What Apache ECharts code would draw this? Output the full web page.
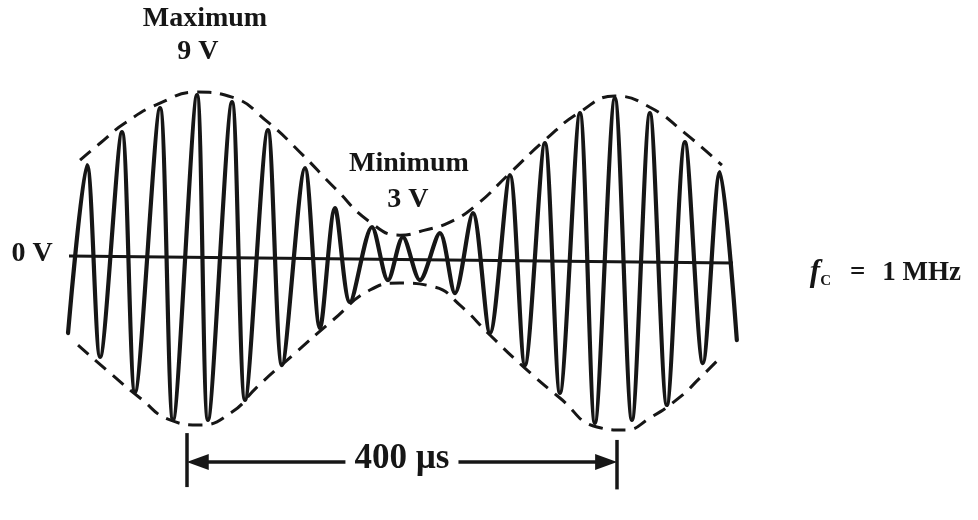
<!DOCTYPE html>
<html>
<head>
<meta charset="utf-8">
<script src="https://cdn.jsdelivr.net/npm/echarts@6/dist/echarts.min.js"></script>
<style>
html,body{margin:0;padding:0;background:#fff;}
#chart{width:978px;height:520px;}
</style>
</head>
<body>
<div id="chart"></div>
<script>
// Carrier waveform extremes (time in µs, voltage in V)
const waveTime = [-110.7,-93.0,-80.9,-60.5,-48.4,-25.1,-13.0,9.3,19.5,41.9,54.0,75.3,88.4,109.8,123.7,137.7,151.6,172.1,187.0,200.9,216.7,235.3,249.3,266.0,281.9,300.5,314.4,333.0,347.0,365.6,379.5,398.1,414.0,430.7,446.5,463.3,480.0,495.8,511.6];
const waveVolt = [-4.11,5.22,-5.44,7.06,-7.39,8.39,-8.94,9.11,-8.94,8.72,-7.83,7.17,-5.89,5.06,-3.83,2.83,-2.39,1.78,-1.17,1.22,-1.17,1.44,-1.89,2.56,-4.11,4.67,-5.89,6.44,-7.44,8.11,-9.11,8.94,-8.94,8.11,-8.11,6.5,-5.78,4.83,-4.5];

// Upper envelope (dashed)
const envTopTime = [-99.5,-80.9,-57.7,-25.1,9.3,41.9,75.3,105.1,137.7,170.2,198.1,221.4,244.7,267.9,300.5,333.0,365.6,398.1,430.7,463.3,497.7];
const envTopVolt = [5.5,6.44,7.56,8.67,9.28,9.0,7.61,5.94,3.94,2.06,1.33,1.61,2.06,2.94,4.78,6.61,8.17,9.06,8.44,7.0,5.22];

// Lower envelope (dashed)
const envBotTime = [-101.4,-71.6,-43.7,-15.8,12.1,41.9,65.1,98.6,135.8,170.2,198.1,230.7,254.0,281.9,314.4,347.0,381.4,407.4,430.7,458.6,477.2,495.8];
const envBotVolt = [-4.78,-6.33,-7.72,-8.94,-9.22,-8.5,-7.11,-5.33,-3.39,-1.72,-1.33,-1.56,-2.56,-4.22,-6.06,-7.72,-9.33,-9.5,-8.83,-7.67,-6.61,-5.5];

// Zero-volt reference line
const zeroTime = [-109.8, 507.9];
const zeroVolt = [0.17, -0.22];

// Period marker (µs)
const periodStart = 0;
const periodEnd = 400;
const periodLevel = -11.28;
const periodText = '400 µs';
const periodTextTime = 200;
const periodTextVolt = -11.1;

// Annotation texts and their anchors (µs, V)
const noteText = ['Maximum', '9 V', 'Minimum', '3 V', '0 V'];
const noteTime = [16.7, 10.2, 206.5, 205.6, -144.2];
const noteVolt = [13.33, 11.5, 5.28, 3.28, 0.28];
const freqLabel = {time: 579.5, volt: -0.78, sym: 'f', sub: 'C', eq: '=', rest: '1 MHz'};

const INK = '#161616';
const SERIF = '"Liberation Serif", "DejaVu Serif", serif';

const zip = (a, b) => a.map((v, i) => [v, b[i]]);

const chart = echarts.init(document.getElementById('chart'), null, {renderer: 'canvas'});

const noteData = noteText.map((t, i) => ({
  value: [noteTime[i], noteVolt[i]],
  label: {formatter: t}
}));
noteData.push({
  value: [periodTextTime, periodTextVolt],
  label: {formatter: periodText, fontSize: 35, backgroundColor: '#ffffff', padding: [0, 9, 0, 9]}
});
noteData.push({
  value: [freqLabel.time, freqLabel.volt],
  label: {
    position: 'right',
    distance: 0,
    formatter: '{f|' + freqLabel.sym + '}{c|' + freqLabel.sub + '}{e|' + freqLabel.eq + '}{t|' + freqLabel.rest + '}',
    rich: {
      f: {fontFamily: SERIF, fontStyle: 'italic', fontWeight: 'bold', fontSize: 31, color: INK},
      c: {fontFamily: SERIF, fontWeight: 'bold', fontSize: 15, color: INK, verticalAlign: 'bottom', padding: [14, 0, 0, 0]},
      e: {fontFamily: SERIF, fontWeight: 'bold', fontSize: 27, color: INK, padding: [0, 17, 0, 19]},
      t: {fontFamily: SERIF, fontWeight: 'bold', fontSize: 27, color: INK}
    }
  }
});

chart.setOption({
  backgroundColor: '#ffffff',
  animation: false,
  grid: {left: 0, right: 0, top: 0, bottom: 0},
  xAxis: {type: 'value', min: -174, max: 736, show: false},
  yAxis: {type: 'value', min: -14.5, max: 14.4, show: false},
  series: [
    {
      name: 'zero', type: 'line', data: zip(zeroTime, zeroVolt),
      showSymbol: false, silent: true,
      lineStyle: {color: INK, width: 3}
    },
    {
      name: 'envTop', type: 'line', data: zip(envTopTime, envTopVolt),
      showSymbol: false, smooth: true,
      lineStyle: {color: INK, width: 3, type: [14, 9]}
    },
    {
      name: 'envBot', type: 'line', data: zip(envBotTime, envBotVolt),
      showSymbol: false, smooth: true,
      lineStyle: {color: INK, width: 3, type: [14, 9]}
    },
    {
      name: 'carrier', type: 'line', data: zip(waveTime, waveVolt),
      showSymbol: false, smooth: 0.3,
      lineStyle: {color: INK, width: 4.2, join: 'round', cap: 'round'},
      markLine: {
        silent: true,
        animation: false,
        lineStyle: {color: INK, width: 3.5, type: 'solid'},
        label: {show: false},
        data: [
          [
            {coord: [periodStart + 10, periodLevel], symbol: 'triangle', symbolSize: [16, 22]},
            {coord: [periodEnd - 10, periodLevel], symbol: 'triangle', symbolSize: [16, 22]}
          ],
          [
            {coord: [periodStart, -9.67], symbol: 'none'},
            {coord: [periodStart, -12.67], symbol: 'none'}
          ],
          [
            {coord: [periodEnd, -10.05], symbol: 'none'},
            {coord: [periodEnd, -12.8], symbol: 'none'}
          ]
        ]
      }
    },
    {
      name: 'notes', type: 'scatter', data: noteData, z: 10,
      symbolSize: 0, silent: true, clip: false,
      itemStyle: {opacity: 1},
      label: {show: true, position: 'inside', opacity: 1, fontFamily: SERIF, fontWeight: 'bold', fontSize: 28, color: INK}
    }
  ]
});
</script>
</body>
</html>
